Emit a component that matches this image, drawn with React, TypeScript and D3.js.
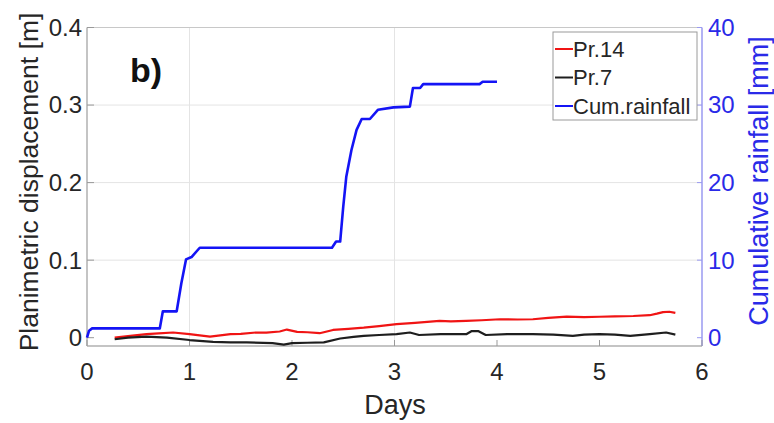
import React from "react";
import * as d3 from "d3";

// ---- data ----
const rainDays = [0, 0.02, 0.05, 0.71, 0.74, 0.875, 0.92, 0.966, 1.02, 1.1, 2.39, 2.43, 2.47, 2.5, 2.53, 2.58, 2.63, 2.68, 2.76, 2.84, 2.99, 3.15, 3.18, 3.25, 3.28, 3.83, 3.86, 4.0];
const rainMm = [0, 0.9, 1.2, 1.2, 3.4, 3.4, 7.0, 10.1, 10.4, 11.6, 11.6, 12.4, 12.4, 16.9, 20.8, 24.2, 26.8, 28.2, 28.2, 29.4, 29.7, 29.8, 32.2, 32.2, 32.7, 32.7, 33.0, 33.0];

const pr14Days = [0.27, 0.4, 0.58, 0.7, 0.84, 1.0, 1.1, 1.2, 1.3, 1.4, 1.5, 1.65, 1.75, 1.88, 1.95, 2.05, 2.15, 2.27, 2.4, 2.55, 2.7, 2.85, 3.02, 3.2, 3.44, 3.55, 3.7, 3.85, 4.03, 4.2, 4.35, 4.5, 4.68, 4.85, 5.0, 5.15, 5.33, 5.49, 5.56, 5.62, 5.68, 5.74];
const pr14 = [0.0, 0.002, 0.0045, 0.0055, 0.0067, 0.0045, 0.003, 0.0015, 0.003, 0.0045, 0.005, 0.0067, 0.0065, 0.008, 0.0105, 0.0076, 0.007, 0.0058, 0.01, 0.0115, 0.013, 0.015, 0.0174, 0.019, 0.0216, 0.021, 0.0216, 0.0225, 0.0238, 0.0235, 0.0238, 0.0255, 0.0272, 0.0265, 0.027, 0.0275, 0.028, 0.029, 0.031, 0.033, 0.0335, 0.032];

const pr7Days = [0.27, 0.4, 0.58, 0.78, 1.0, 1.23, 1.4, 1.56, 1.81, 1.92, 2.0, 2.15, 2.31, 2.47, 2.6, 2.7, 2.85, 3.02, 3.15, 3.24, 3.45, 3.7, 3.75, 3.82, 3.89, 4.1, 4.35, 4.55, 4.74, 4.85, 5.0, 5.15, 5.3, 5.49, 5.65, 5.74];
const pr7 = [-0.002, 0.0, 0.0015, 0.0, -0.003, -0.0054, -0.006, -0.006, -0.007, -0.009, -0.007, -0.0065, -0.006, -0.001, 0.001, 0.0023, 0.0035, 0.0045, 0.0067, 0.0035, 0.0045, 0.0045, 0.0084, 0.0084, 0.0035, 0.0045, 0.0045, 0.004, 0.0023, 0.004, 0.0045, 0.004, 0.0023, 0.0045, 0.0067, 0.004];

const xTicks = [0, 1, 2, 3, 4, 5, 6];
const yTicks = [0, 0.1, 0.2, 0.3, 0.4];
const y2Ticks = [0, 10, 20, 30, 40];
const xGrid = [1, 3];
const legendLabels = ["Pr.14", "Pr.7", "Cum.rainfall"];

const W = 774, H = 423;
const X0 = 87, X1 = 702, YT = 27.5, YB = 346;
const FONT = "'Liberation Sans', Arial, Helvetica, sans-serif";
const TXT = "#262626";
const RED = "#f01414";
const BLK = "#1e1e1e";
const BLUE = "#1414f5";

export default function App() {
  const x = d3.scaleLinear().domain([0, 6]).range([X0, X1]);
  const y = d3.scaleLinear().domain([-0.0107, 0.4]).range([YB, YT]);
  const y2 = d3.scaleLinear().domain([-1.07, 40]).range([YB, YT]);

  const lineL = d3.line<[number, number]>().x(d => x(d[0])).y(d => y(d[1]));
  const lineR = d3.line<[number, number]>().x(d => x(d[0])).y(d => y2(d[1]));

  const rainPath = lineR(rainDays.map((d, i) => [d, rainMm[i]]))!;
  const p14Path = lineL(pr14Days.map((d, i) => [d, pr14[i]]))!;
  const p7Path = lineL(pr7Days.map((d, i) => [d, pr7[i]]))!;

  const legColors = [RED, BLK, BLUE];

  return (
    <svg width={W} height={H} style={{ position: "absolute", left: 0, top: 0, background: "#fff" }} fontFamily={FONT}>
      {/* grid */}
      {yTicks.slice(1, 4).map(t => (
        <line key={"gy" + t} x1={X0} x2={X1} y1={y(t)} y2={y(t)} stroke="#e4e4e4" strokeWidth={1} />
      ))}
      {xGrid.map(t => (
        <line key={"gx" + t} x1={x(t)} x2={x(t)} y1={YT} y2={YB} stroke="#e4e4e4" strokeWidth={1} />
      ))}
      {/* box */}
      <line x1={X0} x2={X1} y1={YT} y2={YT} stroke="#c8c8c8" strokeWidth={1} />
      <line x1={X0} x2={X1} y1={YB} y2={YB} stroke="#b0b0b0" strokeWidth={1.5} />
      <line x1={X0} x2={X0} y1={YT} y2={YB} stroke="#b0b0b0" strokeWidth={1.5} />
      <line x1={X1} x2={X1} y1={YT} y2={YB} stroke="#9a9af0" strokeWidth={1.5} />

      {/* ticks */}
      {yTicks.map(t => (
        <g key={"yt" + t}>
          <line x1={X0} x2={X0 + 7} y1={y(t)} y2={y(t)} stroke="#999" strokeWidth={1} />
          <text x={X0 - 5} y={y(t)} dy="0.35em" textAnchor="end" fontSize={24} fill={TXT}>{t}</text>
        </g>
      ))}
      {y2Ticks.map(t => (
        <g key={"y2t" + t}>
          <line x1={X1 - 5} x2={X1} y1={y2(t)} y2={y2(t)} stroke="#9a9af0" strokeWidth={1} />
          <text x={X1 + 6} y={y2(t)} dy="0.35em" textAnchor="start" fontSize={24} fill="#2a2ae8">{t}</text>
        </g>
      ))}
      {xTicks.map(t => (
        <g key={"xt" + t}>
          <line x1={x(t)} x2={x(t)} y1={YB} y2={YB - 6} stroke="#999" strokeWidth={1} />
          <text x={x(t)} y={380} textAnchor="middle" fontSize={24} fill={TXT}>{t}</text>
        </g>
      ))}

      {/* data */}
      <path d={rainPath} fill="none" stroke={BLUE} strokeWidth={2.6} strokeLinejoin="round" />
      <path d={p14Path} fill="none" stroke={RED} strokeWidth={2.2} strokeLinejoin="round" />
      <path d={p7Path} fill="none" stroke={BLK} strokeWidth={2.2} strokeLinejoin="round" />

      {/* labels */}
      <text x={395} y={414} textAnchor="middle" fontSize={27} fill={TXT}>Days</text>
      <text transform="translate(38,182) rotate(-90)" textAnchor="middle" fontSize={26.5} fill={TXT}>Planimetric displacement [m]</text>
      <text transform="translate(749,181) rotate(-90)" textAnchor="middle" fontSize={27} fill="#2a2ae8" dy="0.7em">Cumulative rainfall [mm]</text>
      <text x={146} y={82} textAnchor="middle" fontSize={34} fontWeight="bold" fill="#111">b)</text>

      {/* legend */}
      <rect x={553} y={32} width={144} height={88} fill="#fff" stroke="#9a9a9a" strokeWidth={1} />
      {legendLabels.map((l, i) => (
        <g key={l}>
          <line x1={555} x2={573} y1={49 + i * 28.5} y2={49 + i * 28.5} stroke={legColors[i]} strokeWidth={2} />
          <text x={573} y={49 + i * 28.5} dy="0.35em" fontSize={22} fill={TXT}>{l}</text>
        </g>
      ))}
    </svg>
  );
}
